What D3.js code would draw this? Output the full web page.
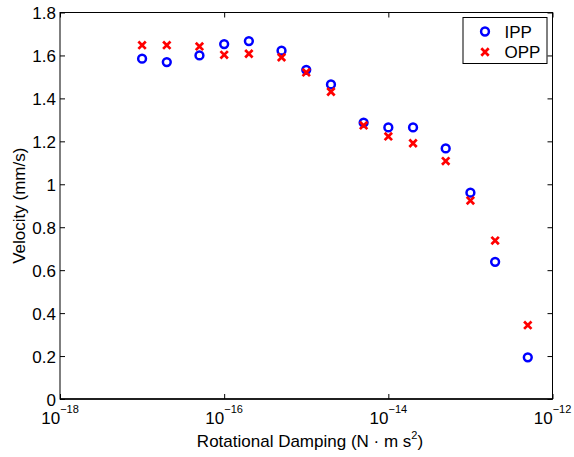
<!DOCTYPE html>
<html>
  <head>
    <meta charset="utf-8">
    <title>Velocity vs rotational damping</title>
    <style>
      body { margin: 0; background: #fff; }
      text { font-family: "Liberation Sans", Arial, Helvetica, sans-serif; }
    </style>
  </head>
  <body>
    <script src="https://d3js.org/d3.v7.min.js"></script>
    <svg id="chart" width="574" height="457"></svg>
    <script>
      // damping values (N m s^2)
      const damping = [1e-17, 2e-17, 5e-17, 1e-16, 2e-16, 5e-16, 1e-15, 2e-15, 5e-15,
                       1e-14, 2e-14, 5e-14, 1e-13, 2e-13, 5e-13]
      // velocity (mm/s)
      const ipp = [1.585, 1.569, 1.600, 1.653, 1.667, 1.622, 1.533, 1.465, 1.287,
                   1.265, 1.265, 1.167, 0.961, 0.639, 0.194]
      const opp = [1.648, 1.648, 1.642, 1.603, 1.608, 1.591, 1.521, 1.431, 1.274,
                   1.223, 1.191, 1.108, 0.924, 0.738, 0.344]
      const xTicks = [1e-18, 1e-16, 1e-14, 1e-12]
      const xTickExp = ["\u221218", "\u221216", "\u221214", "\u221212"]
      const yTicks = [0, 0.2, 0.4, 0.6, 0.8, 1, 1.2, 1.4, 1.6, 1.8]
      const seriesNames = ["IPP", "OPP"]

      const plotLeft = 60
      const plotRight = 552.5
      const plotTop = 12.5
      const plotBottom = 399
      const fs = 17

      const svg = d3.select('#chart')

      const x = d3.scaleLog().domain([1e-18, 1e-12]).range([plotLeft, plotRight])
      const y = d3.scaleLinear().domain([0, 1.8]).range([plotBottom, plotTop])

      // frame
      svg.append('rect')
        .attr('x', plotLeft).attr('y', plotTop)
        .attr('width', plotRight - plotLeft).attr('height', plotBottom - plotTop)
        .attr('fill', 'white').attr('stroke', 'black').attr('stroke-width', 1)

      // axes with inward ticks (box on, like matlab)
      function styleAxis(g) {
        g.select('.domain').remove()
        g.selectAll('.tick line').attr('stroke', 'black')
      }

      svg.append('g')
        .attr('transform', `translate(0,${plotBottom})`)
        .call(d3.axisBottom(x).tickValues(xTicks).tickSize(-5).tickFormat(''))
        .call(styleAxis)
      svg.append('g')
        .attr('transform', `translate(0,${plotTop})`)
        .call(d3.axisTop(x).tickValues(xTicks).tickSize(-5).tickFormat(''))
        .call(styleAxis)

      const yAxis = svg.append('g')
        .attr('transform', `translate(${plotLeft},0)`)
        .call(d3.axisLeft(y).tickValues(yTicks).tickSize(-5).tickPadding(4)
          .tickFormat(d => String(+d.toFixed(1))))
        .call(styleAxis)
      yAxis.selectAll('.tick text')
        .attr('font-size', fs).attr('fill', 'black')
        .attr('font-family', '"Liberation Sans", Arial, sans-serif')
        .attr('dy', '0.38em')
      svg.append('g')
        .attr('transform', `translate(${plotRight},0)`)
        .call(d3.axisRight(y).tickValues(yTicks).tickSize(-5).tickFormat(''))
        .call(styleAxis)

      // thicker bottom axis line
      svg.append('line')
        .attr('x1', plotLeft).attr('x2', plotRight)
        .attr('y1', plotBottom).attr('y2', plotBottom)
        .attr('stroke', 'black').attr('stroke-width', 1.5)

      // x tick labels 10^n
      xTicks.forEach((t, i) => {
        let lab = svg.append('text')
          .attr('x', x(t)).attr('y', 424)
          .attr('text-anchor', 'middle')
          .attr('font-size', fs)
        lab.append('tspan').text('10')
        lab.append('tspan').attr('font-size', 11).attr('dy', -11).text(xTickExp[i])
      })

      // axis labels
      const xl = svg.append('text')
        .attr('x', 310).attr('y', 447)
        .attr('text-anchor', 'middle').attr('font-size', fs)
      xl.append('tspan').text('Rotational Damping (N \u00b7 m s')
      xl.append('tspan').attr('font-size', 11).attr('dy', -8).text('2')
      xl.append('tspan').attr('dy', 8).text(')')

      svg.append('text')
        .attr('transform', `translate(25,${(plotTop + plotBottom) / 2}) rotate(-90)`)
        .attr('text-anchor', 'middle').attr('font-size', fs)
        .text('Velocity (mm/s)')

      // markers
      function circleMark(g, cx, cy) {
        g.append('circle').attr('cx', cx).attr('cy', cy).attr('r', 3.9)
          .attr('fill', 'none').attr('stroke', '#0000ff').attr('stroke-width', 2.5)
      }
      function crossMark(g, cx, cy) {
        let s = 3.7
        g.append('path')
          .attr('d', `M${cx - s},${cy - s}L${cx + s},${cy + s}M${cx - s},${cy + s}L${cx + s},${cy - s}`)
          .attr('stroke', '#ff0000').attr('stroke-width', 2.7).attr('fill', 'none')
      }

      const pts = svg.append('g')
      damping.forEach((d, i) => circleMark(pts, x(d), y(ipp[i])))
      damping.forEach((d, i) => crossMark(pts, x(d), y(opp[i])))

      // legend
      const lg = svg.append('g')
      lg.append('rect')
        .attr('x', 463).attr('y', 17.5).attr('width', 84).attr('height', 46)
        .attr('fill', 'white').attr('stroke', 'black').attr('stroke-width', 1)
      circleMark(lg, 485, 31.5)
      crossMark(lg, 485, 52)
      seriesNames.forEach((n, i) => {
        lg.append('text').attr('x', 504.5).attr('y', 37.5 + i * 20)
          .attr('font-size', fs).text(n)
      })
    </script>
  </body>
</html>
